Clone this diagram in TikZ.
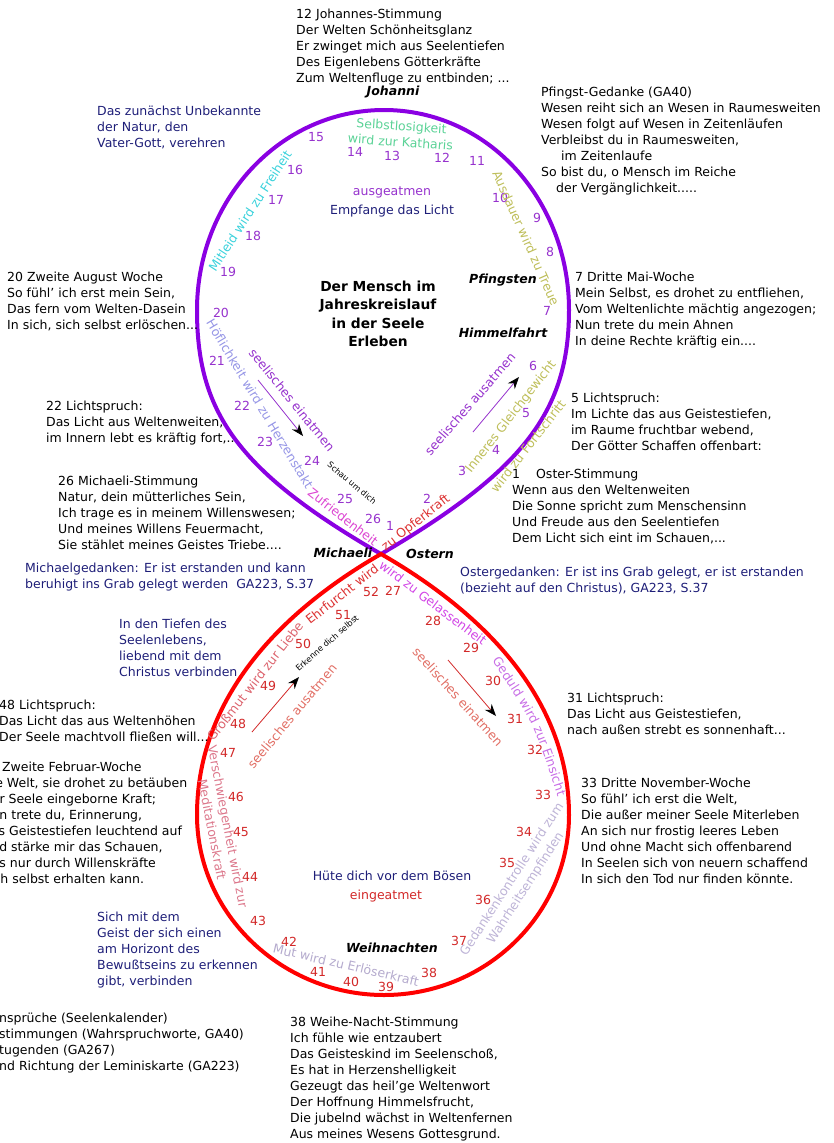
\documentclass[tikz,border=0pt]{standalone}
\usepackage{fontspec}
\setmainfont{DejaVu Sans}
\usetikzlibrary{arrows.meta,decorations.text}

\definecolor{loopup}{RGB}{138,0,226}
\definecolor{looplow}{RGB}{255,0,0}
\definecolor{numup}{RGB}{150,50,205}
\definecolor{numlow}{RGB}{210,40,40}
\definecolor{navy}{RGB}{30,30,120}
\definecolor{katharis}{RGB}{90,210,150}
\definecolor{mitleid}{RGB}{60,210,220}
\definecolor{treue}{RGB}{190,190,90}
\definecolor{takt}{RGB}{150,150,230}
\definecolor{zufrieden}{RGB}{220,70,210}
\definecolor{opfer}{RGB}{220,50,50}
\definecolor{liebe}{RGB}{220,100,110}
\definecolor{gelassen}{RGB}{210,70,230}
\definecolor{einsicht}{RGB}{200,110,230}
\definecolor{atmenlow}{RGB}{225,110,100}
\definecolor{meditat}{RGB}{220,120,140}
\definecolor{erloeser}{RGB}{180,170,205}
\definecolor{wahrheit}{RGB}{190,180,215}

\newcommand{\pn}{\node[pnum]}
\newcommand{\rn}{\node[rnum]}
\newcommand{\vs}{\node[verse]}
\newcommand{\fest}{\node[feast]}

\begin{document}
\begin{tikzpicture}[x=1pt,y=-1pt,
    every node/.style={font=\fontsize{12.5}{16}\selectfont, inner sep=0pt},
    pnum/.style={text=numup},
    rnum/.style={text=numlow},
    verse/.style={anchor=north west, align=left},
    feast/.style={font=\fontsize{12.5}{16}\selectfont\bfseries\itshape},
    small/.style={font=\fontsize{8.2}{10}\selectfont},
    uploop/.style={draw=loopup, line width=4pt},
    lowloop/.style={draw=looplow, line width=4pt},
    breath/.style={line width=0.8pt, -{Stealth[length=12pt,width=9pt,color=black]}}]
\useasboundingbox (0,0) rectangle (834,1143);

% the two loops
\coordinate (x0) at (381,554);
\draw[uploop] (x0) .. controls (235,470) and (197,410) .. (197,310)
    .. controls (197,200) and (280,110) .. (384,110)
    .. controls (488,110) and (569,200) .. (569,310)
    .. controls (569,410) and (525,470) .. cycle;
\draw[lowloop] (x0) .. controls (470,605) and (569,690) .. (569,815)
    .. controls (569,915) and (485,995) .. (384,995)
    .. controls (283,995) and (197,915) .. (197,815)
    .. controls (197,690) and (292,605) .. cycle;

% weeks, upper loop
\pn (n1) at (390,526) {1};
\pn (n2) at (427,499) {2};
\pn (n3) at (462,471) {3};
\pn (n4) at (496,450) {4};
\pn (n5) at (526,413) {5};
\pn (n6) at (533,366) {6};
\pn (n7) at (547,311) {7};
\pn (n8) at (550,252) {8};
\pn (n9) at (537,218) {9};
\pn (n10) at (500,198) {10};
\pn (n11) at (477,161) {11};
\pn (n12) at (442,158) {12};
\pn (n13) at (392,156) {13};
\pn (n14) at (355,152) {14};
\pn (n15) at (316,137) {15};
\pn (n16) at (295,170) {16};
\pn (n17) at (276,200) {17};
\pn (n18) at (253,236) {18};
\pn (n19) at (228,272) {19};
\pn (n20) at (221,313) {20};
\pn (n21) at (217,361) {21};
\pn (n22) at (242,406) {22};
\pn (n23) at (265,442) {23};
\pn (n24) at (312,461) {24};
\pn (n25) at (345,499) {25};
\pn (n26) at (373,519) {26};

% weeks, lower loop
\rn (n27) at (393,591) {27};
\rn (n28) at (433,621) {28};
\rn (n29) at (471,648) {29};
\rn (n30) at (493,681) {30};
\rn (n31) at (515,719) {31};
\rn (n32) at (535,750) {32};
\rn (n33) at (543,795) {33};
\rn (n34) at (524,832) {34};
\rn (n35) at (507,863) {35};
\rn (n36) at (483,900) {36};
\rn (n37) at (459,941) {37};
\rn (n38) at (429,973) {38};
\rn (n39) at (386,987) {39};
\rn (n40) at (351,982) {40};
\rn (n41) at (318,972) {41};
\rn (n42) at (289,942) {42};
\rn (n43) at (258,921) {43};
\rn (n44) at (250,877) {44};
\rn (n45) at (241,832) {45};
\rn (n46) at (236,797) {46};
\rn (n47) at (228,753) {47};
\rn (n48) at (238,724) {48};
\rn (n49) at (268,686) {49};
\rn (n50) at (303,644) {50};
\rn (n51) at (343,615) {51};
\rn (n52) at (371,592) {52};

% virtues along the loops
\node[text=katharis, align=center, rotate=-4] (tkath) at (401,134) {Selbstlosigkeit\\wird zur Katharis};
\node[text=mitleid, rotate=57] (tfrei) at (250,211) {Mitleid wird zu Freiheit};
\node[text=treue, rotate=-66] (ttreue) at (526,238) {Ausdauer wird zu Treue};
\node[text=takt, rotate=-59] (ttakt) at (260,404) {Höflichkeit wird zu Herzenstakt};
\node[text=zufrieden, rotate=-38] (tzufr) at (343,517) {Zufriedenheit};
\node[text=opfer, rotate=38] (topfer) at (416,523) {zu Opferkraft};
\node[text=treue, rotate=52] (tgleich) at (511,417) {Inneres Gleichgewicht};
\node[text=treue, rotate=52] (tfort) at (528,446) {wird zu Fortschritt};
\node[text=liebe, rotate=52] (tliebe) at (255,681) {Großmut wird zur Liebe};
\node[text=opfer, rotate=38] (tehr) at (342,594) {Ehrfurcht wird};
\node[text=gelassen, rotate=-37] (tgelas) at (433,603) {wird zu Gelassenheit};
\coordinate (gd0) at (482,645); \coordinate (gd1) at (493,662);
\coordinate (gd2) at (557,795); \coordinate (gd3) at (564,814);
\path[decorate, decoration={text along path, text align=center,
    text={|\fontsize{12.5}{16}\selectfont\color{einsicht}|Geduld wird zur Einsicht}}]
    (gd0) -- (gd1) .. controls (534,724) .. (gd2) -- (gd3);
\node[text=meditat, align=center, rotate=-79] (tmedit) at (220,828) {Verschwiegenheit wird zur\\Meditationskraft};
\node[text=erloeser, rotate=-13] (terl) at (346,965) {Mut wird zu Erlöserkraft};
\node[text=wahrheit, align=center, rotate=57] (twahr) at (519,884) {Gedankenkontrolle wird zum\\Wahrheitsempfinden};

% breathing
\node[text=numup, rotate=-51] (einU) at (292,400) {seelisches einatmen};
\node[text=numup, rotate=49] (ausU) at (470,404) {seelisches ausatmen};
\node[text=atmenlow, rotate=-48] (einL) at (458,697) {seelisches einatmen};
\node[text=atmenlow, rotate=50] (ausL) at (292,716) {seelisches ausatmen};
\coordinate (a1s) at (258,380); \coordinate (a1e) at (303,436);
\coordinate (a2s) at (473,432); \coordinate (a2e) at (519,377);
\coordinate (a3s) at (448,660); \coordinate (a3e) at (496,716);
\coordinate (a4s) at (252,732); \coordinate (a4e) at (299,677);
\draw[breath, draw=numup] (a1s) -- (a1e);
\draw[breath, draw=numup] (a2s) -- (a2e);
\draw[breath, draw=numlow] (a3s) -- (a3e);
\draw[breath, draw=numlow] (a4s) -- (a4e);
\node[small, rotate=-40] (schau) at (352,483) {Schau um dich};
\node[small, rotate=41] (erkenne) at (327,643) {Erkenne dich selbst};

% inside
\node[text=numup] (ausgeat) at (392,192) {ausgeatmen};
\node[text=navy] (licht) at (392,211) {Empfange das Licht};
\node[font=\fontsize{13.8}{18.3}\selectfont\bfseries, align=center] (title) at (378,314)
    {Der Mensch im\\Jahreskreislauf\\in der Seele\\Erleben};
\node[text=navy] (boesen) at (392,876) {Hüte dich vor dem Bösen};
\node[text=numlow] (eingeat) at (386,896) {eingeatmet};

% feasts
\fest (johanni) at (393,92) {Johanni};
\fest (pfingsten) at (503,280) {Pfingsten};
\fest (himmel) at (503,333) {Himmelfahrt};
\fest (michaeli) at (343,553) {Michaeli};
\fest (ostern) at (430,554) {Ostern};
\fest (weihn) at (392,948) {Weihnachten};

% verses
\vs (v12) at (296,9) {12 Johannes-Stimmung\\Der Welten Schönheitsglanz\\Er zwinget mich aus Seelentiefen\\Des Eigenlebens Götterkräfte\\Zum Weltenfluge zu entbinden; ...};
\vs[text=navy] (vater) at (97,106) {Das zunächst Unbekannte\\der Natur, den\\Vater-Gott, verehren};
\vs (pfg) at (541,87) {Pfingst-Gedanke (GA40)\\Wesen reiht sich an Wesen in Raumesweiten\\Wesen folgt auf Wesen in Zeitenläufen\\Verbleibst du in Raumesweiten,\\\hspace*{20pt}im Zeitenlaufe\\So bist du, o Mensch im Reiche\\\hspace*{15pt}der Vergänglichkeit.....};
\vs (v20) at (7,272) {20 Zweite August Woche\\So fühl' ich erst mein Sein,\\Das fern vom Welten-Dasein\\In sich, sich selbst erlöschen...};
\vs (v7) at (575,272) {7 Dritte Mai-Woche\\Mein Selbst, es drohet zu entfliehen,\\Vom Weltenlichte mächtig angezogen;\\Nun trete du mein Ahnen\\In deine Rechte kräftig ein....};
\vs (v22) at (46,401) {22 Lichtspruch:\\Das Licht aus Weltenweiten,\\im Innern lebt es kräftig fort,..};
\vs (v5) at (571,393) {5 Lichtspruch:\\Im Lichte das aus Geistestiefen,\\im Raume fruchtbar webend,\\Der Götter Schaffen offenbart:};
\vs (v26) at (58,476) {26 Michaeli-Stimmung\\Natur, dein mütterliches Sein,\\Ich trage es in meinem Willenswesen;\\Und meines Willens Feuermacht,\\Sie stählet meines Geistes Triebe....};
\vs (v1) at (512,469) {1\hspace{16pt}Oster-Stimmung\\Wenn aus den Weltenweiten\\Die Sonne spricht zum Menschensinn\\Und Freude aus den Seelentiefen\\Dem Licht sich eint im Schauen,...};
\vs[text=navy] (michg) at (25,563) {Michaelgedanken: Er ist erstanden und kann\\beruhigt ins Grab gelegt werden\ \ GA223, S.37};
\vs[text=navy] (osterg) at (460,567) {Ostergedanken: Er ist ins Grab gelegt, er ist erstanden\\(bezieht auf den Christus), GA223, S.37};
\vs[text=navy] (tiefen) at (119,619) {In den Tiefen des\\Seelenlebens,\\liebend mit dem\\Christus verbinden};
\vs (v48) at (-1,700) {48 Lichtspruch:\\Das Licht das aus Weltenhöhen\\Der Seele machtvoll fließen will...};
\vs (v46) at (-18,762) {46 Zweite Februar-Woche\\Die Welt, sie drohet zu betäuben\\Der Seele eingeborne Kraft;\\Nun trete du, Erinnerung,\\Aus Geistestiefen leuchtend auf\\Und stärke mir das Schauen,\\Das nur durch Willenskräfte\\Sich selbst erhalten kann.};
\vs (v31) at (567,693) {31 Lichtspruch:\\Das Licht aus Geistestiefen,\\nach außen strebt es sonnenhaft...};
\vs (v33) at (581,778) {33 Dritte November-Woche\\So fühl' ich erst die Welt,\\Die außer meiner Seele Miterleben\\An sich nur frostig leeres Leben\\Und ohne Macht sich offenbarend\\In Seelen sich von neuern schaffend\\In sich den Tod nur finden könnte.};
\vs[text=navy] (geist) at (97,912) {Sich mit dem\\Geist der sich einen\\am Horizont des\\Bewußtseins zu erkennen\\gibt, verbinden};
\vs (legend) at (-1,1013) {nsprüche (Seelenkalender)\\stimmungen (Wahrspruchworte, GA40)\\tugenden (GA267)\\nd Richtung der Leminiskarte (GA223)};
\vs (v38) at (290,1017) {38 Weihe-Nacht-Stimmung\\Ich fühle wie entzaubert\\Das Geisteskind im Seelenschoß,\\Es hat in Herzenshelligkeit\\Gezeugt das heil'ge Weltenwort\\Der Hoffnung Himmelsfrucht,\\Die jubelnd wächst in Weltenfernen\\Aus meines Wesens Gottesgrund.};

\end{tikzpicture}
\end{document}
